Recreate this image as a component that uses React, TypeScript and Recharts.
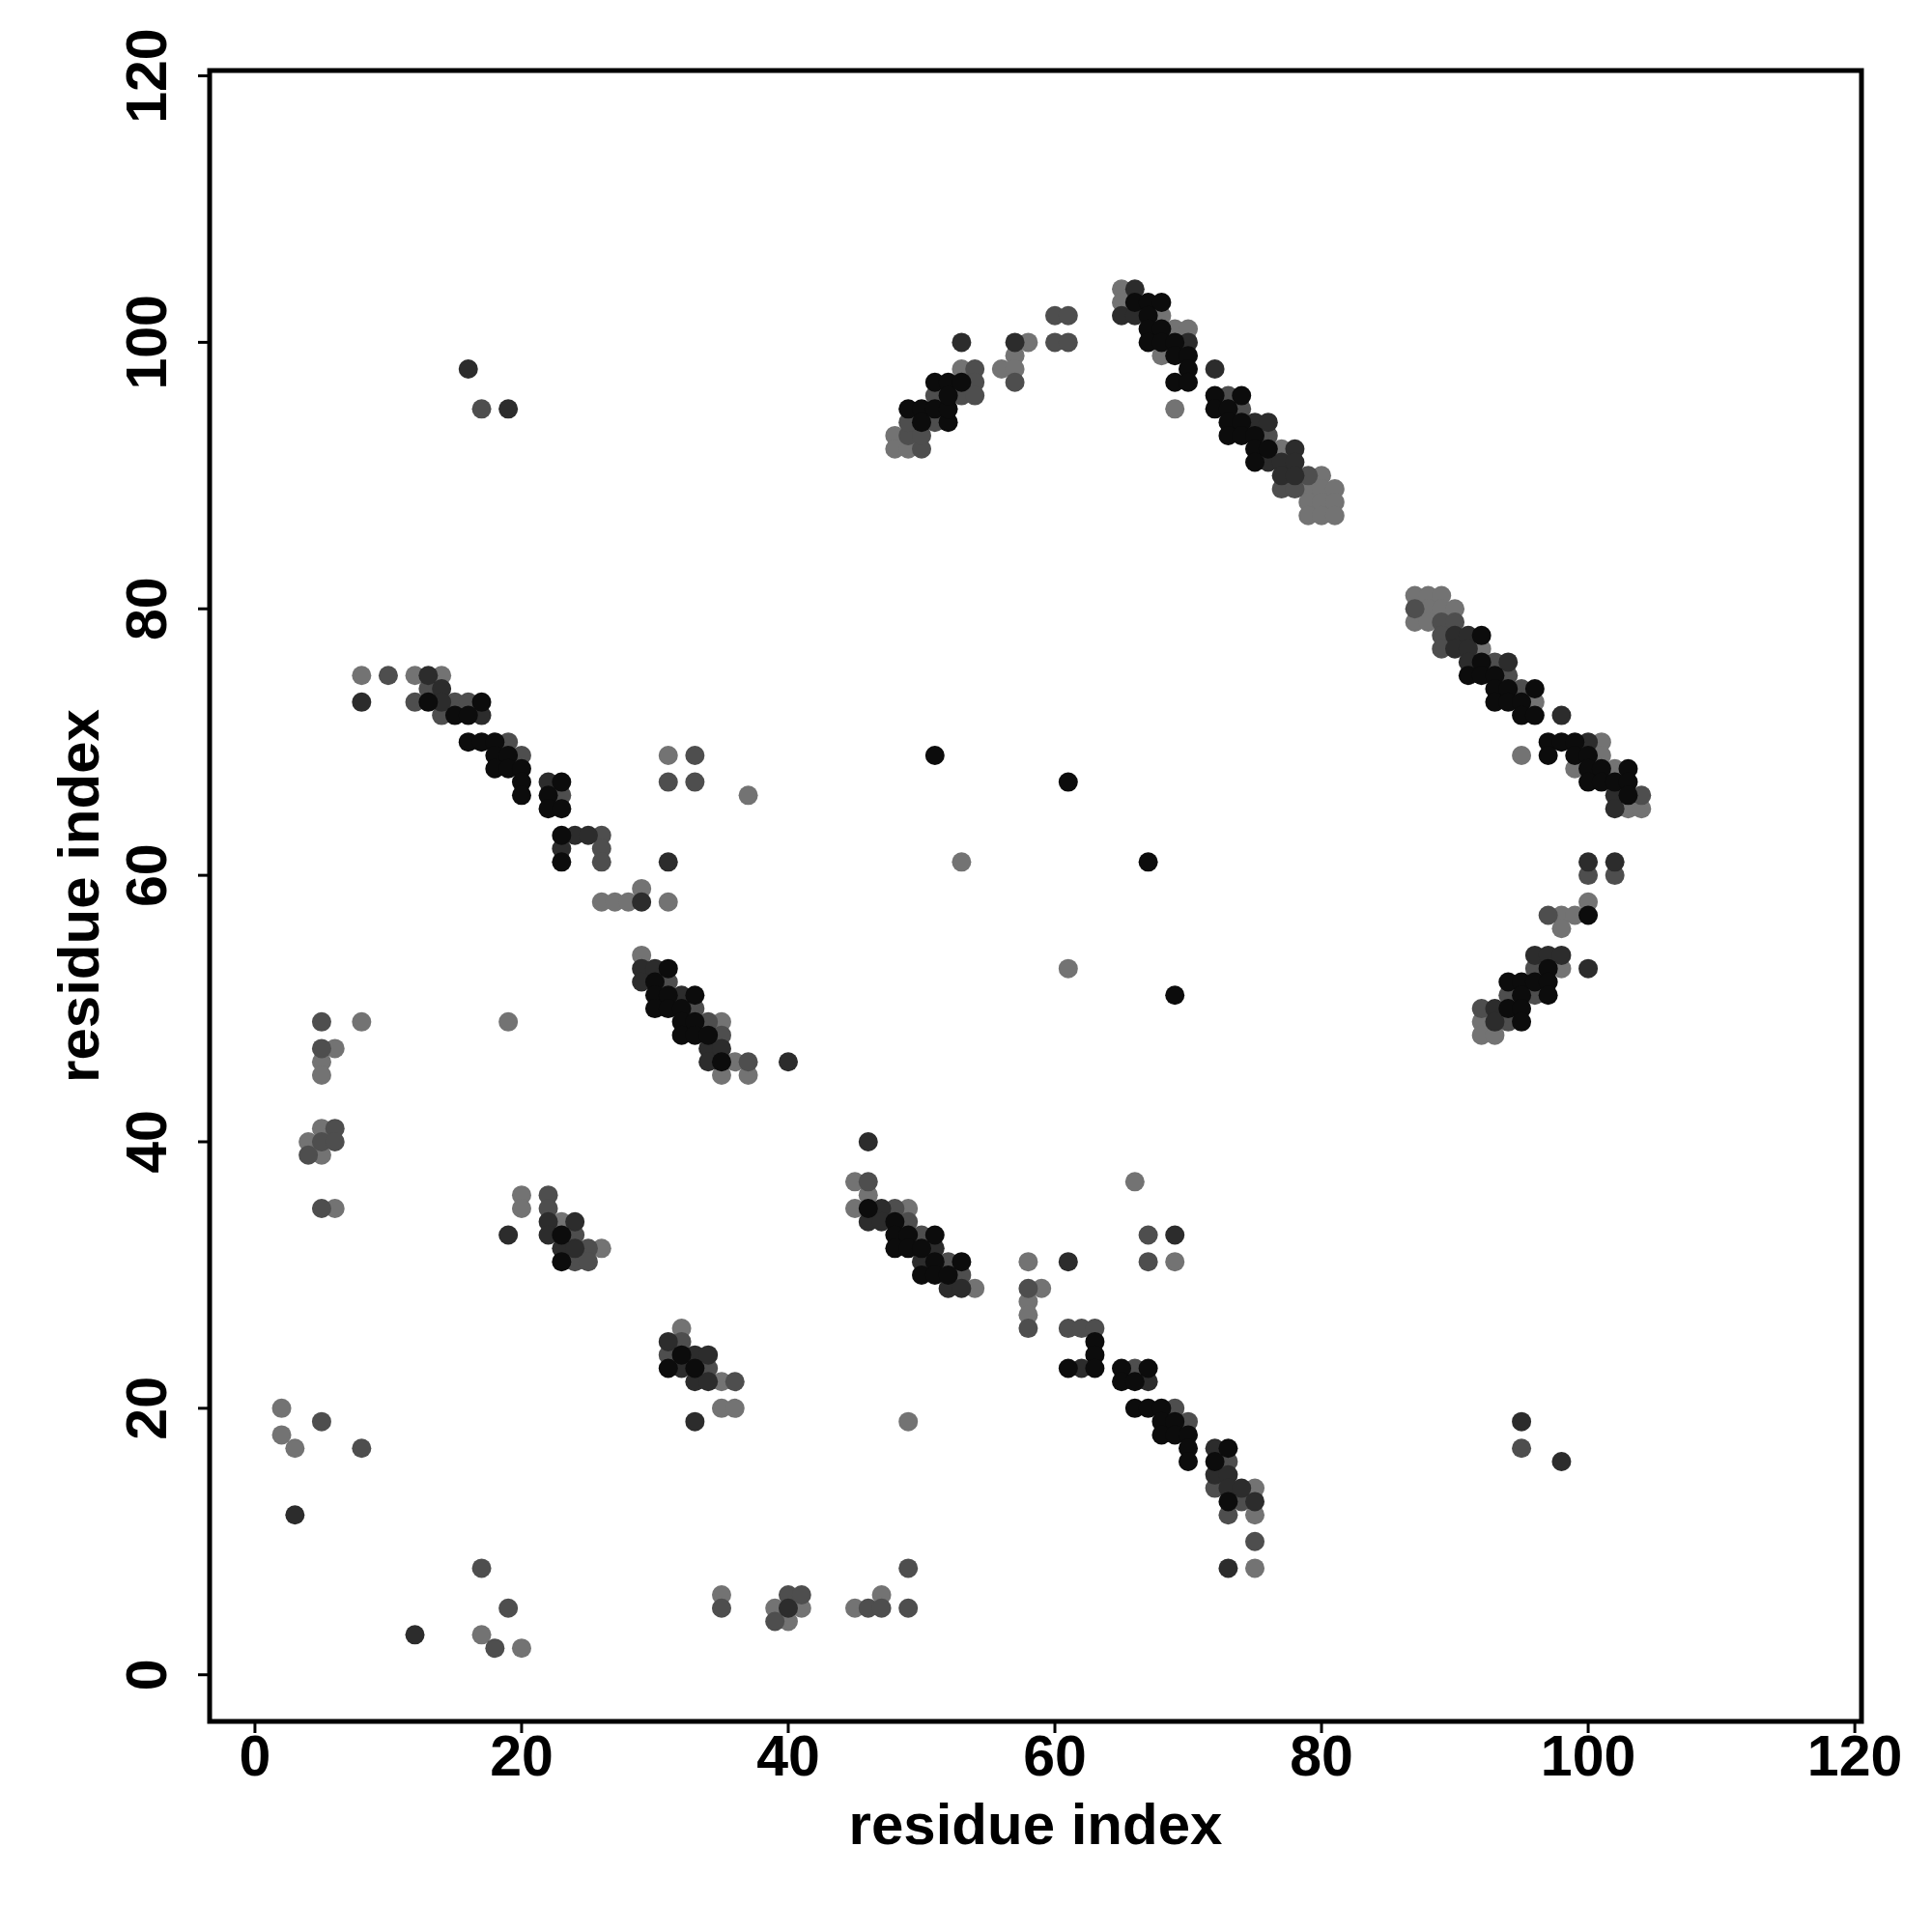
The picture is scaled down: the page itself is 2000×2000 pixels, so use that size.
import { ReferenceArea, Scatter, ScatterChart, XAxis, YAxis } from 'recharts';

// contact map: residue pairs, grouped by shade (darkest = strongest)
const xTicks = [0, 20, 40, 60, 80, 100, 120];
const yTicks = [0, 20, 40, 60, 80, 100, 120];
const axisTitle = 'residue index';

const blackPts = [
  [49, 95], [50, 95], [50, 94], [52, 94], [51, 95], [52, 95], [51, 97], [52, 97], [52, 96], [53, 97],
  [66, 103], [67, 103], [68, 103], [67, 102], [67, 101], [68, 101], [67, 100], [68, 100], [69, 100],
  [69, 99], [70, 99], [70, 98], [69, 97], [70, 97], [72, 96], [74, 96], [72, 95], [73, 95], [73, 94],
  [74, 94], [73, 93], [74, 93], [75, 93], [75, 92], [76, 92], [75, 91],
  [92, 78], [92, 76], [91, 75], [92, 75], [93, 75], [93, 74], [94, 74], [96, 74], [93, 73], [94, 73],
  [95, 73], [95, 72], [96, 72], [97, 70], [98, 70], [99, 70], [97, 69], [99, 69], [100, 69], [100, 68],
  [101, 68], [103, 68], [100, 67], [101, 67], [102, 67], [103, 67], [103, 66],
  [100, 57], [97, 53], [94, 52], [95, 52], [96, 52], [97, 52], [95, 51], [97, 51], [94, 50], [95, 50], [95, 49],
  [13, 73], [17, 73], [15, 72], [16, 72], [16, 70], [17, 70], [18, 70], [18, 69], [19, 69], [18, 68],
  [19, 68], [20, 68], [20, 67], [20, 66], [23, 67], [22, 66], [22, 65], [23, 65], [23, 63], [23, 61],
  [31, 53], [30, 52], [30, 51], [31, 51], [33, 51], [30, 50], [31, 50], [32, 50], [32, 49], [33, 49],
  [32, 48], [33, 48], [34, 48], [35, 46],
  [23, 33], [23, 31], [32, 24], [31, 23], [33, 23],
  [46, 35], [48, 34], [48, 33], [49, 33], [51, 33], [48, 32], [49, 32], [50, 32], [51, 31], [53, 31],
  [50, 30], [51, 30], [52, 30],
  [63, 25], [63, 24], [61, 23], [63, 23], [65, 23], [67, 23], [65, 22], [66, 22], [66, 20], [67, 20],
  [68, 20], [68, 19], [69, 19], [68, 18], [69, 18], [70, 18], [70, 17], [70, 16], [73, 17], [72, 16], [73, 13],
  [51, 69], [61, 67], [67, 61], [69, 51],
];

const darkPts = [
  [53, 100], [57, 100],
  [66, 104], [65, 102], [66, 102], [70, 100], [72, 98], [75, 94], [76, 94], [78, 92], [76, 91], [77, 91],
  [78, 91], [77, 90], [78, 90],
  [90, 78], [91, 78], [90, 77], [91, 77], [91, 76], [94, 76], [98, 72], [100, 70], [102, 66], [102, 65],
  [100, 61], [102, 61], [96, 54], [97, 54], [98, 54], [100, 53], [93, 50], [93, 49],
  [13, 75], [8, 73], [14, 74], [14, 73], [17, 72], [22, 67], [24, 63], [25, 63], [23, 62],
  [31, 61], [29, 58], [29, 53], [30, 53], [29, 52], [32, 51], [34, 47], [35, 47], [34, 46], [40, 46],
  [19, 33], [22, 34], [24, 34], [22, 33], [23, 32], [24, 32],
  [3, 12], [31, 25], [33, 24], [34, 24], [32, 23], [33, 22], [34, 22], [33, 19],
  [12, 3], [40, 5],
  [46, 40], [47, 35], [46, 34], [47, 34], [51, 32], [50, 31], [52, 29], [53, 29],
  [69, 33], [61, 31], [62, 23], [67, 22], [72, 17], [72, 15], [73, 15], [73, 14], [74, 14], [75, 13], [73, 8],
  [16, 98], [19, 95], [95, 19], [98, 16],
];

const midPts = [
  [50, 92], [49, 93], [50, 93], [49, 94], [51, 94], [51, 96], [54, 98], [54, 97], [53, 96], [54, 96],
  [57, 97], [60, 102], [61, 102], [60, 100], [61, 100],
  [73, 96], [74, 95], [76, 93], [79, 90], [77, 89], [78, 89],
  [87, 80], [89, 79], [90, 79], [89, 78], [89, 77], [93, 76], [94, 75], [95, 74], [104, 66],
  [100, 60], [102, 60], [97, 57], [96, 53], [94, 51], [96, 51], [92, 50], [94, 49],
  [10, 75], [13, 74], [12, 73], [15, 73], [16, 73], [14, 72], [19, 70], [20, 69], [23, 66], [26, 63],
  [26, 62], [26, 61],
  [31, 52], [33, 50], [34, 49], [35, 48], [37, 46],
  [5, 49], [5, 47], [6, 41], [5, 40], [6, 40], [4, 39], [5, 35], [22, 36], [22, 35], [24, 33], [25, 32],
  [24, 31], [25, 31],
  [5, 19], [8, 17], [32, 25], [31, 24], [34, 23], [36, 22],
  [17, 8], [19, 5], [18, 2], [35, 5], [39, 4], [40, 6], [41, 6], [46, 5], [47, 5], [49, 8], [49, 5],
  [46, 37], [48, 35], [49, 34], [50, 33], [52, 31], [53, 30], [58, 29], [58, 26],
  [67, 33], [67, 31], [61, 26], [62, 26], [63, 26], [66, 23], [69, 20], [70, 19], [73, 16], [72, 14],
  [74, 13], [73, 12], [75, 10],
  [17, 95], [33, 69], [31, 67], [33, 67], [95, 17],
];

const lightPts = [
  [48, 93], [48, 92], [49, 92], [53, 98], [56, 98], [58, 100], [57, 99], [57, 98],
  [65, 104], [65, 103], [68, 102], [69, 101], [70, 101], [68, 99], [69, 95], [77, 92], [80, 90], [79, 89],
  [80, 89], [81, 89], [79, 88], [80, 88], [81, 88], [79, 87], [80, 87], [81, 87],
  [87, 81], [88, 81], [89, 81], [88, 80], [89, 80], [90, 80], [87, 79], [88, 79], [92, 77], [96, 73],
  [95, 69], [101, 70], [101, 69], [99, 68], [102, 68], [103, 65], [104, 65],
  [100, 58], [98, 57], [99, 57], [98, 56], [98, 53], [92, 49], [92, 48], [93, 48],
  [8, 75], [12, 75], [14, 75],
  [26, 58], [27, 58], [28, 58], [29, 59], [31, 58], [29, 54], [35, 49], [36, 46], [35, 45], [37, 45],
  [8, 49], [19, 49], [6, 47], [5, 46], [5, 45], [5, 41], [4, 40], [5, 39], [6, 35], [20, 36], [20, 35],
  [23, 34], [26, 32],
  [2, 20], [2, 18], [3, 17], [32, 26], [35, 22], [35, 20], [36, 20],
  [17, 3], [20, 2], [35, 6], [39, 5], [41, 5], [40, 4], [45, 5], [47, 6],
  [45, 37], [46, 36], [45, 35], [49, 35], [54, 29], [58, 31], [59, 29], [58, 28], [58, 27],
  [66, 37], [69, 31], [75, 14], [75, 12], [75, 8],
  [53, 61], [61, 53],
  [31, 69], [37, 66], [49, 19],
];

const font = '"Liberation Sans", Arial, Helvetica, sans-serif';
const toRows = (pts: number[][]) => pts.map(([x, y]) => ({ x, y }));
const dot = (fill: string) => (p: any) => <circle cx={p.cx} cy={p.cy} r={10} fill={fill} />;

const XTick = ({ x, y, payload }: any) => (
  <text x={x} y={y} dy="0.71em" textAnchor="middle" fontFamily={font} fontWeight="bold" fontSize={59} fill="#000">
    {payload.value}
  </text>
);

const YTick = ({ x, y, payload }: any) => (
  <text x={x} y={y} transform={`rotate(-90, ${x}, ${y})`} textAnchor="middle" fontFamily={font}
    fontWeight="bold" fontSize={59} fill="#000">
    {payload.value}
  </text>
);

export default function App() {
  return (
    <div style={{ position: 'absolute', left: 0, top: 0, background: '#fff' }}>
      <ScatterChart width={2000} height={2000} margin={{ top: 73, right: 73, bottom: 0, left: 0 }}>
        <XAxis
          dataKey="x" type="number" domain={[-3.4, 120.5]} ticks={xTicks} allowDataOverflow
          axisLine={false} tickLine={{ stroke: '#000', strokeWidth: 3 }} tickSize={12} tickMargin={2}
          height={218} tick={<XTick />}
          label={{
            content: ({ viewBox }: any) => (
              <text x={viewBox.x + viewBox.width / 2} y={viewBox.y + 127} textAnchor="middle"
                fontFamily={font} fontWeight="bold" fontSize={60} fill="#000">{axisTitle}</text>
            ),
          }}
        />
        <YAxis
          dataKey="y" type="number" domain={[-3.5, 120.4]} ticks={yTicks} allowDataOverflow
          axisLine={false} tickLine={{ stroke: '#000', strokeWidth: 3 }} tickSize={12} tickMargin={33}
          width={217} tick={<YTick />}
          label={{
            content: ({ viewBox }: any) => {
              const cx = viewBox.x + 102;
              const cy = viewBox.y + viewBox.height / 2;
              return (
                <text x={cx} y={cy} transform={`rotate(-90, ${cx}, ${cy})`} textAnchor="middle"
                  fontFamily={font} fontWeight="bold" fontSize={60} fill="#000">{axisTitle}</text>
              );
            },
          }}
        />
        <Scatter data={toRows(lightPts)} shape={dot('#737373')} isAnimationActive={false} />
        <Scatter data={toRows(midPts)} shape={dot('#4e4e4e')} isAnimationActive={false} />
        <Scatter data={toRows(darkPts)} shape={dot('#2c2c2c')} isAnimationActive={false} />
        <Scatter data={toRows(blackPts)} shape={dot('#0c0c0c')} isAnimationActive={false} />
        <ReferenceArea x1={-3.4} x2={120.5} y1={-3.5} y2={120.4} fill="none" stroke="#000"
          strokeWidth={5} ifOverflow="visible" />
      </ScatterChart>
    </div>
  );
}
